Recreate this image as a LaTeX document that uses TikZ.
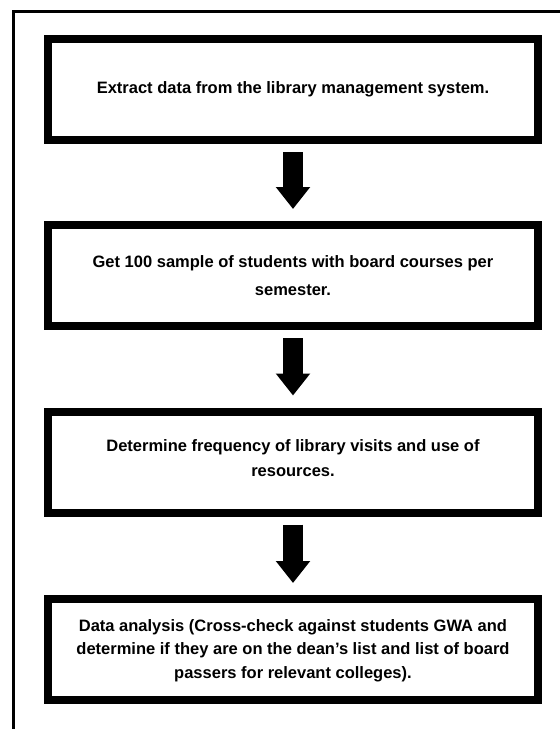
\documentclass[tikz,border=0pt]{standalone}
\usepackage{fontspec}
\setmainfont{Liberation Sans}
\usetikzlibrary{arrows.meta}
\begin{document}
\begin{tikzpicture}[x=1pt,y=1pt,
  stepbox/.style={draw=black,line width=8pt,minimum width=490pt,minimum height=101pt,inner sep=0pt},
  steptext/.style={inner sep=0pt,align=center,text=black},
  bigarrow/.style={draw=black,line width=20pt,
    -{Triangle[width=33pt,length=22pt]},shorten <=8pt,shorten >=12pt}]
\useasboundingbox (0,0) rectangle (560,-729);
\draw[line width=3pt] (13.5,-732) -- (13.5,-11.5) -- (563,-11.5);
\node[stepbox] (b1) at (293,-89.5) {};
\node[stepbox] (b2) at (293,-275.5) {};
\node[stepbox] (b3) at (293,-462) {};
\node[stepbox] (b4) at (293,-649.5) {};
\node[steptext,font=\fontsize{16.5}{28}\selectfont\bfseries] (t1) at (293,-89.5) {Extract data from the library management system.};
\node[steptext,font=\fontsize{16.5}{28}\selectfont\bfseries] (t2) at (293,-276) {Get 100 sample of students with board courses per\\ semester.};
\node[steptext,font=\fontsize{16.5}{25}\selectfont\bfseries] (t3) at (293,-458.5) {Determine frequency of library visits and use of\\ resources.};
\node[steptext,font=\fontsize{16.5}{23.5}\selectfont\bfseries] (t4) at (293,-650.5) {Data analysis (Cross-check against students GWA and\\ determine if they are on the dean’s list and list of board\\ passers for relevant colleges).};
\draw[bigarrow] (b1.south) -- (b2.north);
\draw[bigarrow] (b2.south) -- (b3.north);
\draw[bigarrow] (b3.south) -- (b4.north);
\end{tikzpicture}
\end{document}
